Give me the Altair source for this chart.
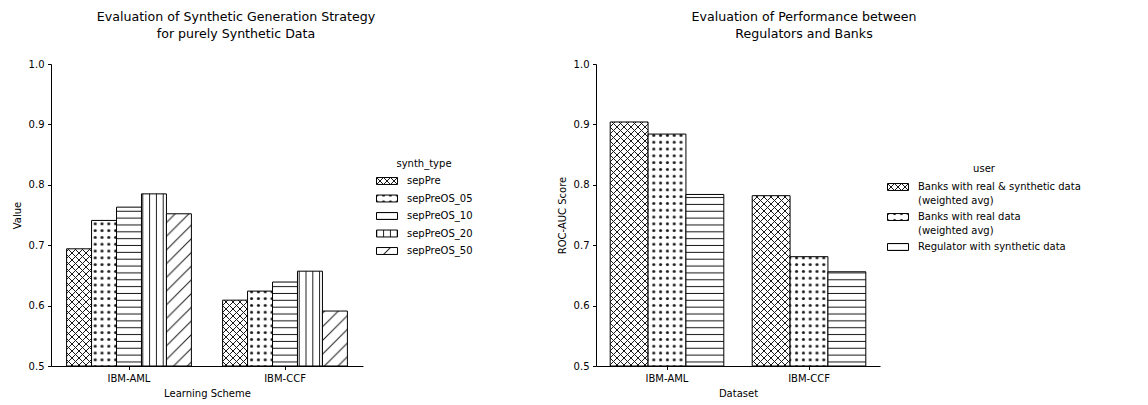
import altair as alt
import pandas as pd
import jinja2

# ---------------- data ----------------
schemes = ["IBM-AML", "IBM-CCF"]
synth_types = ["sepPre", "sepPreOS_05", "sepPreOS_10", "sepPreOS_20", "sepPreOS_50"]
synth_aml = [0.694, 0.741, 0.763, 0.785, 0.752]
synth_ccf = [0.609, 0.624, 0.639, 0.657, 0.591]

users = [
    "Banks with real & synthetic data\n(weighted avg)",
    "Banks with real data\n(weighted avg)",
    "Regulator with synthetic data",
]
user_aml = [0.904, 0.884, 0.784]
user_ccf = [0.782, 0.681, 0.656]

y_ticks = [0.5, 0.6, 0.7, 0.8, 0.9, 1.0]

# hatch fills (SVG patterns defined in the page)
left_fills = ["url(#hatch-x)", "url(#hatch-dot)", "url(#hatch-h)", "url(#hatch-v)", "url(#hatch-d)"]
right_fills = ["url(#hatch-x)", "url(#hatch-dot)", "url(#hatch-h)"]

left_df = pd.DataFrame({
    "scheme": [s for s in schemes for _ in synth_types],
    "synth_type": synth_types * 2,
    "value": synth_aml + synth_ccf,
})
right_df = pd.DataFrame({
    "dataset": [s for s in schemes for _ in users],
    "user": users * 2,
    "score": user_aml + user_ccf,
})

FONT = "DejaVu Sans"
LEGEND_RECT = "M-1,-0.33H1V0.33H-1Z"


def panel(df, xfield, cat, cats, fills, yfield, xtitle, ytitle, title, width,
          legend_x, legend_y, title_dx, row_pad, title_pad, multiline):
    legend_kw = dict(
        title=cat, orient="none", legendX=legend_x, legendY=legend_y,
        symbolType=LEGEND_RECT, symbolSize=441, symbolStrokeColor="black",
        symbolStrokeWidth=1, titleAnchor="middle", titleFontWeight="normal",
        titleFontSize=10, titleColor="black", labelFontSize=10, labelColor="black",
        labelLimit=400, labelOffset=9, rowPadding=row_pad, padding=0, titlePadding=title_pad,
        titleFont=FONT, labelFont=FONT,
    )
    if multiline:
        legend_kw["labelExpr"] = "split(datum.label, '\\n')"
    legend = alt.Legend(**legend_kw)
    return alt.Chart(df).mark_bar(stroke="black", strokeWidth=1).encode(
        x=alt.X(f"{xfield}:N", sort=schemes, title=xtitle,
                scale=alt.Scale(paddingInner=0.2, paddingOuter=0.1),
                axis=alt.Axis(labelAngle=0, tickSize=3.5, labelPadding=3.5, titlePadding=5,
                              domainColor="black", tickColor="black", labelColor="black",
                              titleColor="black", titleFontWeight="normal", titleFontSize=10,
                              labelFontSize=10, labelFont=FONT, titleFont=FONT)),
        xOffset=alt.XOffset(f"{cat}:N", sort=cats, scale=alt.Scale(paddingInner=0, paddingOuter=0)),
        y=alt.Y(f"{yfield}:Q", title=ytitle,
                scale=alt.Scale(domain=[0.5, 1.0], zero=False, nice=False),
                axis=alt.Axis(values=y_ticks, format=".1f", tickSize=3.5, labelPadding=3.5,
                              titlePadding=6, grid=False, domainColor="black", tickColor="black",
                              labelColor="black", titleColor="black", titleFontWeight="normal",
                              titleFontSize=10, labelFontSize=10, labelFont=FONT, titleFont=FONT)),
        y2=alt.datum(0.5),
        fill=alt.Fill(f"{cat}:N", scale=alt.Scale(domain=cats, range=fills), legend=legend),
    ).properties(
        width=width, height=302,
        title=alt.TitleParams(text=title, fontSize=12.6, fontWeight="normal", anchor="start",
                              align="center", frame="group", dx=title_dx, offset=18,
                              lineHeight=17.5, color="black", font=FONT),
    )


left = panel(left_df, "scheme", "synth_type", synth_types, left_fills, "value",
             "Learning Scheme", "Value",
             ["Evaluation of Synthetic Generation Strategy", "for purely Synthetic Data"],
             312, 325, 95, 185, 0.5, 1, False)
right = panel(right_df, "dataset", "user", users, right_fills, "score",
              "Dataset", "ROC-AUC Score",
              ["Evaluation of Performance between", "Regulators and Banks"],
              284, 291, 100, 208, 0, 2, True)

chart = alt.hconcat(left, right, spacing=84).resolve_scale(
    fill="independent", x="independent", y="independent", xOffset="independent"
).properties(
    padding={"left": 12, "top": 10, "right": 5, "bottom": 2}
).configure(
    font=FONT, background="white", style={"guide-label": {"lineHeight": 14}}
).configure_view(
    stroke=None
)

PATTERNS = """
<svg width="0" height="0" style="position:absolute;left:0;top:0" aria-hidden="true">
 <defs>
  <pattern id="hatch-x" patternUnits="userSpaceOnUse" width="7" height="7">
   <rect width="7" height="7" fill="white"/>
   <path d="M0,0L7,7M7,0L0,7" stroke="#1a1a1a" stroke-width="1"/>
  </pattern>
  <pattern id="hatch-dot" patternUnits="userSpaceOnUse" width="6.8" height="6.8">
   <rect width="6.8" height="6.8" fill="white"/>
   <circle cx="3.4" cy="3.4" r="1.55" fill="#1a1a1a"/>
  </pattern>
  <pattern id="hatch-h" patternUnits="userSpaceOnUse" width="10" height="6.85">
   <rect width="10" height="6.85" fill="white"/>
   <path d="M0,3.4H10" stroke="#1a1a1a" stroke-width="1"/>
  </pattern>
  <pattern id="hatch-v" patternUnits="userSpaceOnUse" width="6.8" height="10">
   <rect width="6.8" height="10" fill="white"/>
   <path d="M3.4,0V10" stroke="#1a1a1a" stroke-width="1"/>
  </pattern>
  <pattern id="hatch-d" patternUnits="userSpaceOnUse" width="13.7" height="13.7">
   <rect width="13.7" height="13.7" fill="white"/>
   <path d="M0,13.7L13.7,0M-2,2L2,-2M11.7,15.7L15.7,11.7" stroke="#1a1a1a" stroke-width="1"/>
  </pattern>
 </defs>
</svg>
"""

TEMPLATE = jinja2.Template("""<!DOCTYPE html>
<html>
<head>
  <style>
    #{{ output_div }}.vega-embed { width: 100%; display: flex; }
    #{{ output_div }}.vega-embed details,
    #{{ output_div }}.vega-embed details summary { position: relative; }
  </style>
  <script type="text/javascript" src="{{ base_url }}/vega@{{ vega_version }}"></script>
  <script type="text/javascript" src="{{ base_url }}/vega-lite@{{ vegalite_version }}"></script>
  <script type="text/javascript" src="{{ base_url }}/vega-embed@{{ vegaembed_version }}"></script>
</head>
<body>
""" + PATTERNS + """
  <div id="{{ output_div }}"></div>
  <script>
    (function(vegaEmbed) {
      var spec = {{ spec }};
      var embedOpt = {{ embed_options }};
      function showError(el, error){
          el.innerHTML = ('<div style="color:red;"><p>JavaScript Error: ' + error.message + '</p></div>');
          throw error;
      }
      const el = document.getElementById('{{ output_div }}');
      vegaEmbed("#{{ output_div }}", spec, embedOpt)
        .catch(error => showError(el, error));
    })(vegaEmbed);
  </script>
</body>
</html>
""")

chart.save("out.html", embed_options={"renderer": "svg", "actions": False}, template=TEMPLATE)
